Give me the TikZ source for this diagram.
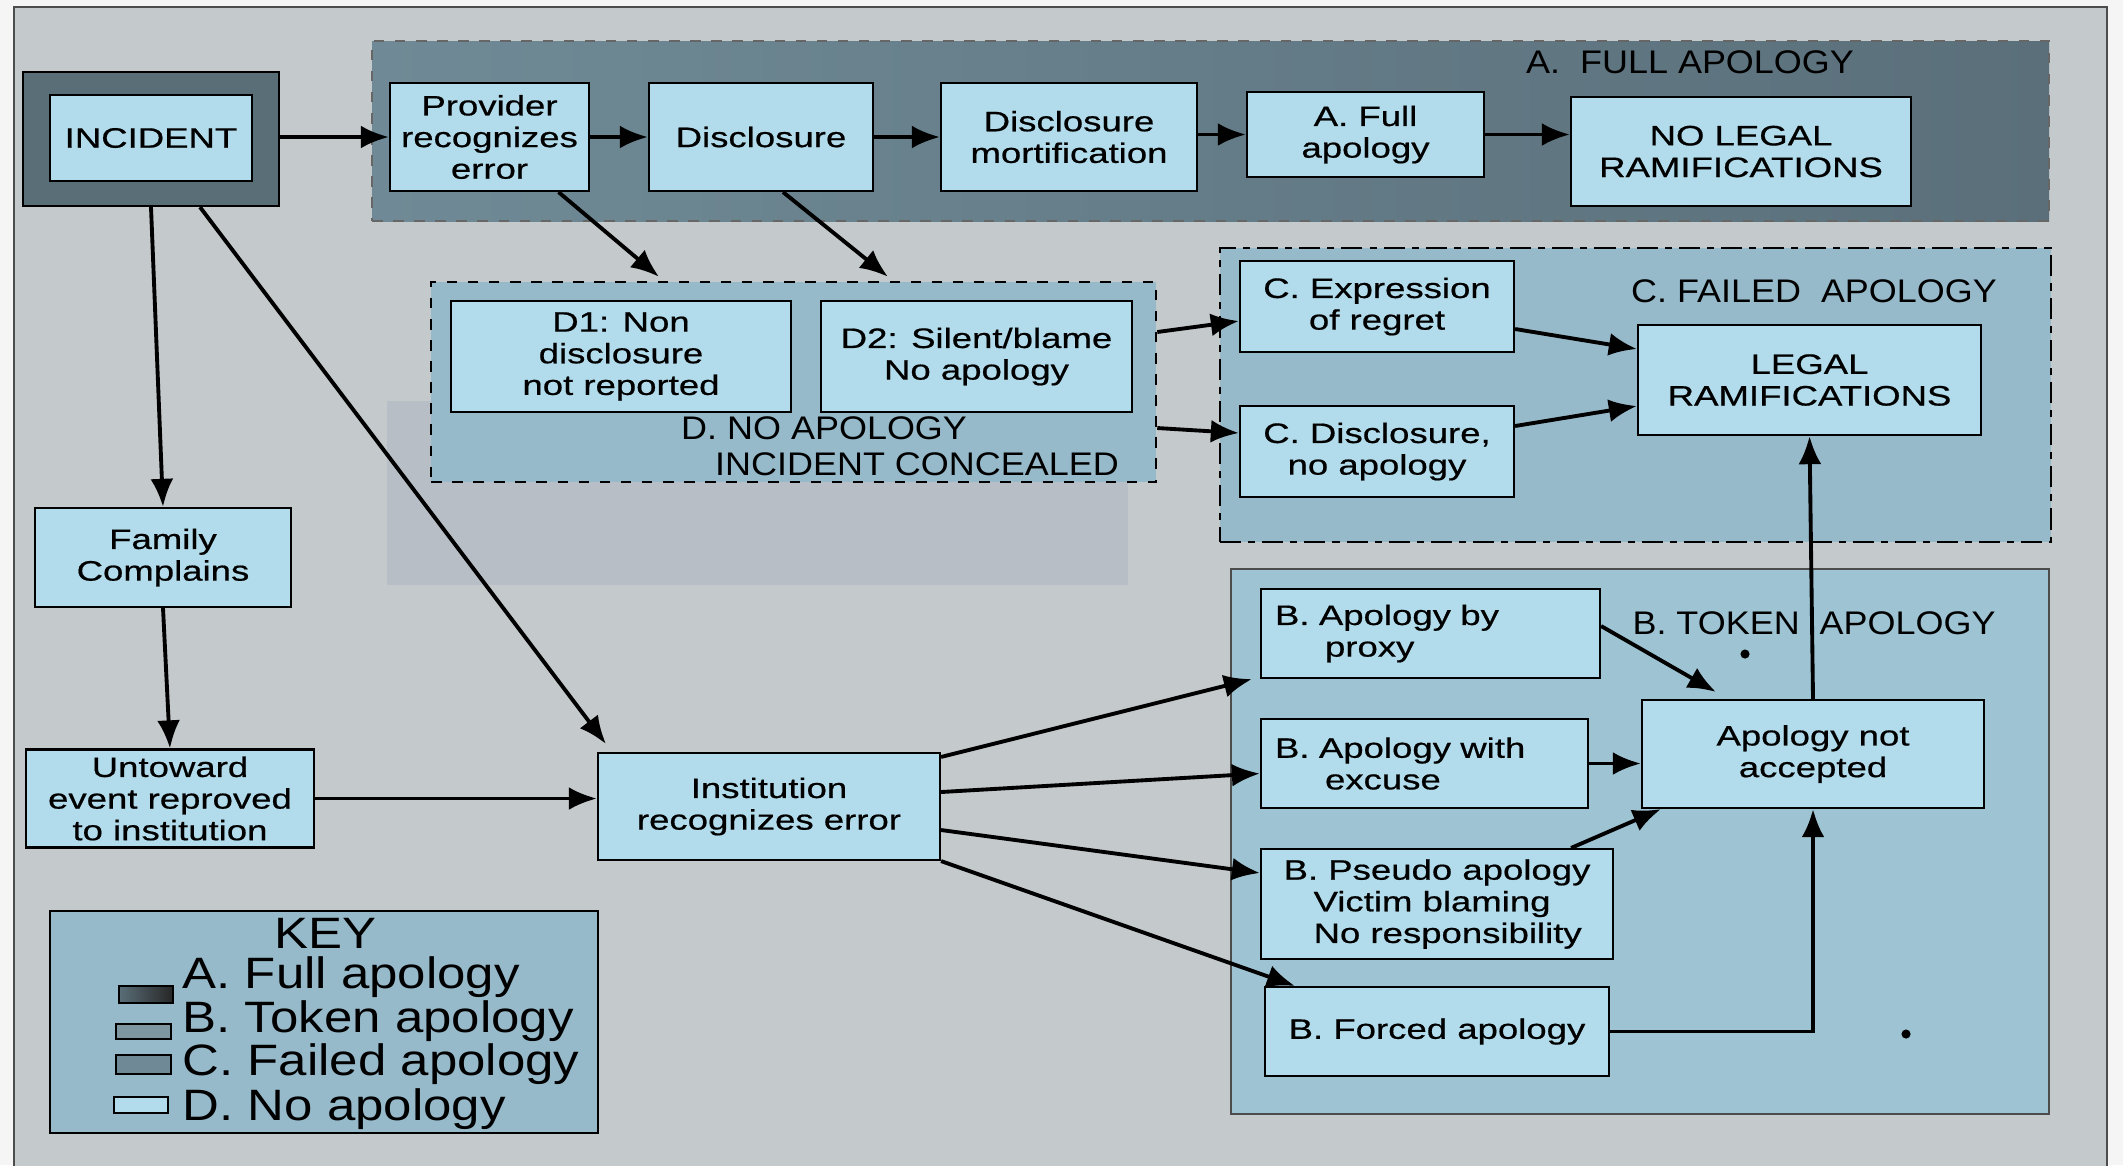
\documentclass[tikz,border=0pt]{standalone}
\usepackage{fontspec}
\setmainfont{Liberation Sans}
\newfontfamily\boxfam{Liberation Sans}[FakeStretch=1.3,FakeBold=0.6]
\newfontfamily\grpfam{Liberation Sans}[FakeStretch=1.1]
\newfontfamily\keyfam{Liberation Sans}[FakeStretch=1.16]
\usetikzlibrary{arrows.meta,positioning,calc}
\definecolor{frameGray}{HTML}{C4C9CC}
\definecolor{boxBlue}{HTML}{B2DCEB}
\definecolor{grpBlue}{HTML}{97BACB}
\definecolor{tokBlue}{HTML}{9EC4D3}
\definecolor{slateL}{HTML}{6F8A96}
\definecolor{slateR}{HTML}{5A6F7A}
\definecolor{incSlate}{HTML}{5A6E78}
\definecolor{hazeGray}{HTML}{B7BEC5}
\newcommand{\boxfont}{\boxfam\fontsize{8}{9}\selectfont}
\newcommand{\grpfont}{\grpfam\fontsize{9.3}{10.4}\selectfont}
\newcommand{\keyfont}{\keyfam\fontsize{12.5}{14}\selectfont}
\tikzset{
  lbox/.style={draw,fill=boxBlue,line width=0.6pt,inner sep=2pt,align=center,font=\boxfont},
  bleft/.style={lbox,align=left,inner xsep=0.14cm},
  grp/.style={draw,line width=0.7pt,inner sep=0pt},
  glabel/.style={font=\grpfont,inner sep=1pt},
  klabel/.style={font=\keyfont,anchor=west,inner sep=0pt},
  arr/.style={-{Latex[length=8pt,width=6.5pt]},line width=1.1pt},
  swatch/.style={draw,line width=0.6pt},
}

\begin{document}
\begin{tikzpicture}[x=1cm,y=-1cm]
  \useasboundingbox (0,0) rectangle (21.23,11.65);
  \fill[gray!8] (0,0) rectangle (21.23,11.65);
  \draw[fill=frameGray,line width=0.8pt,draw=black!70] (0.14,0.07) rectangle (21.07,11.9);
  % groups
  \node[grp,dashed,draw=black!60,left color=slateL,right color=slateR,
        minimum width=16.77cm,minimum height=1.80cm] (grpA) at (12.105,1.31) {};
  \fill[hazeGray] (3.87,4.01) rectangle (11.28,5.85);
  \node[grp,dashed,fill=grpBlue,minimum width=7.25cm,minimum height=2.00cm] (grpD) at (7.935,3.82) {};
  \node[grp,dash pattern=on 6pt off 2pt on 2pt off 2pt,fill=grpBlue,
        minimum width=8.31cm,minimum height=2.94cm] (grpC) at (16.355,3.95) {};
  \node[grp,fill=tokBlue,draw=black!70,minimum width=8.18cm,minimum height=5.45cm] (grpB) at (16.40,8.415) {};
  \node[glabel] at (16.90,0.62) {A.\ \ FULL APOLOGY};
  \node[glabel] at (18.14,2.91) {C. FAILED\ \ APOLOGY};
  \node[glabel] at (18.14,6.23) {B. TOKEN\ \ APOLOGY};
  \node[glabel,align=left,anchor=west] at (6.77,4.46) {D. NO APOLOGY\\\hspace*{0.34cm}INCIDENT CONCEALED};

  % incident
  \node[draw,fill=incSlate,line width=0.6pt,minimum width=2.56cm,minimum height=1.34cm] (incbg) at (1.51,1.39) {};
  \node[lbox,minimum width=2.02cm,minimum height=0.86cm] (inc) at (1.51,1.38) {INCIDENT};

  % A row
  \node[lbox,minimum width=1.99cm,minimum height=1.08cm] (prov) at (4.895,1.37) {Provider\\recognizes\\error};
  \node[lbox,minimum width=2.24cm,minimum height=1.08cm] (disc) at (7.61,1.37) {Disclosure};
  \node[lbox,minimum width=2.56cm,minimum height=1.08cm] (mort) at (10.69,1.37) {Disclosure\\mortification};
  \node[lbox,minimum width=2.37cm,minimum height=0.85cm] (afull) at (13.655,1.345) {A. Full\\apology};
  \node[lbox,minimum width=3.40cm,minimum height=1.09cm] (nolegal) at (17.41,1.515) {NO LEGAL\\RAMIFICATIONS};

  % D
  \node[lbox,minimum width=3.40cm,minimum height=1.11cm] (d1) at (6.21,3.565) {D1: Non\\disclosure\\not reported};
  \node[lbox,minimum width=3.11cm,minimum height=1.11cm] (d2) at (9.765,3.565) {D2: Silent/blame\\No apology};

  % C
  \node[lbox,minimum width=2.74cm,minimum height=0.91cm] (cexp) at (13.77,3.065) {C. Expression\\of regret};
  \node[lbox,minimum width=2.74cm,minimum height=0.91cm] (cdisc) at (13.77,4.515) {C. Disclosure,\\no apology};
  \node[lbox,minimum width=3.43cm,minimum height=1.10cm] (legal) at (18.095,3.80) {LEGAL\\RAMIFICATIONS};

  % B
  \node[bleft,text width=3.11cm,minimum height=0.89cm] (proxy) at (14.305,6.335) {B. Apology by\\\hspace*{0.5cm}proxy};
  \node[bleft,text width=2.99cm,minimum height=0.89cm] (excuse) at (14.245,7.635) {B. Apology with\\\hspace*{0.5cm}excuse};
  \node[lbox,align=left,minimum width=3.52cm,minimum height=1.10cm] (pseudo) at (14.37,9.04) {B. Pseudo apology\\\hspace*{0.3cm}Victim blaming\\\hspace*{0.3cm}No responsibility};
  \node[lbox,minimum width=3.44cm,minimum height=0.89cm] (forced) at (14.37,10.315) {B. Forced apology};
  \node[lbox,minimum width=3.42cm,minimum height=1.08cm] (ana) at (18.13,7.54) {Apology not\\accepted};
  \fill (17.45,6.54) circle (1.3pt);
  \fill (19.06,10.34) circle (1.3pt);

  % left column
  \node[lbox,minimum width=2.56cm,minimum height=0.99cm] (fam) at (1.63,5.575) {Family\\Complains};
  \node[lbox,minimum width=2.88cm,minimum height=0.91cm] (unt) at (1.70,7.985) {Untoward\\event reproved\\to institution};
  \node[lbox,minimum width=3.42cm,minimum height=1.07cm] (inst) at (7.69,8.065) {Institution\\recognizes error};

  % key
  \node[draw,fill=grpBlue,line width=0.6pt,minimum width=5.48cm,minimum height=2.22cm] (key) at (3.24,10.22) {};
  \node[font=\keyfont,inner sep=0pt] (keyt) at (3.25,9.33) {KEY};
  \node[klabel] (ka) at (1.82,9.77) {A. Full apology};
  \node[klabel] (kb) at (1.82,10.21) {B. Token apology};
  \node[klabel] (kc) at (1.82,10.64) {C. Failed apology};
  \node[klabel] (kd) at (1.82,11.09) {D. No apology};
  \shade[swatch,left color=incSlate,right color=black!85] (1.19,9.86) rectangle (1.73,10.03);
  \draw[swatch,fill=slateL!90!white] (1.16,10.24) rectangle (1.71,10.39);
  \draw[swatch,fill=slateL] (1.16,10.55) rectangle (1.71,10.74);
  \draw[swatch,fill=boxBlue] (1.14,10.97) rectangle (1.68,11.13);

  % arrows
  \draw[arr] (incbg.east |- prov.west) -- (prov.west);
  \draw[arr] (prov) -- (disc);
  \draw[arr] (disc) -- (mort);
  \draw[arr] (afull.west -| mort.east) -- (afull.west);
  \draw[arr] (afull.east) -- (afull.east -| nolegal.west);
  \draw[arr] ([xshift=0.69cm]prov.south) -- ([xshift=-1.345cm,yshift=0.04cm]grpD.north);
  \draw[arr] ([xshift=0.22cm]disc.south) -- ([xshift=0.945cm,yshift=0.04cm]grpD.north);
  \draw[arr] (incbg.south) -- (fam.north);
  \draw[arr] ([xshift=0.49cm]incbg.south) -- ([xshift=0.09cm,yshift=0.08cm]inst.north west);
  \draw[arr] (fam.south) -- (unt.north);
  \draw[arr] (unt.east) -- (unt.east -| inst.west);
  \draw[arr] ([yshift=-0.05cm]inst.north east) -- ([xshift=-0.08cm]proxy.south west);
  \draw[arr] ([yshift=0.145cm]inst.east) -- ([yshift=-0.1cm]excuse.west);
  \draw[arr] ([yshift=-0.235cm]inst.east) -- ([yshift=0.31cm]pseudo.west);
  \draw[arr] (inst.south east) -- ([xshift=0.31cm]forced.north west);
  \draw[arr] ([yshift=0.5cm]grpD.east) -- ([yshift=-0.145cm]cexp.west);
  \draw[arr] ([yshift=-0.46cm]grpD.east) -- ([yshift=0.185cm]cdisc.west);
  \draw[arr] ([yshift=-0.225cm]cexp.east) -- ([yshift=0.31cm]legal.west);
  \draw[arr] ([yshift=0.255cm]cdisc.east) -- ([yshift=-0.26cm]legal.west);
  \draw[arr] (ana.north) -- (legal.south);
  \draw[arr] ([yshift=0.075cm]proxy.east) -- ([xshift=0.75cm,yshift=0.07cm]ana.north west);
  \draw[arr] (excuse.east) -- (excuse.east -| ana.west);
  \draw[arr] ([xshift=1.34cm]pseudo.north) -- ([xshift=0.2cm]ana.south west);
  \draw[arr] (forced.east) -| (ana.south);
\end{tikzpicture}
\end{document}
